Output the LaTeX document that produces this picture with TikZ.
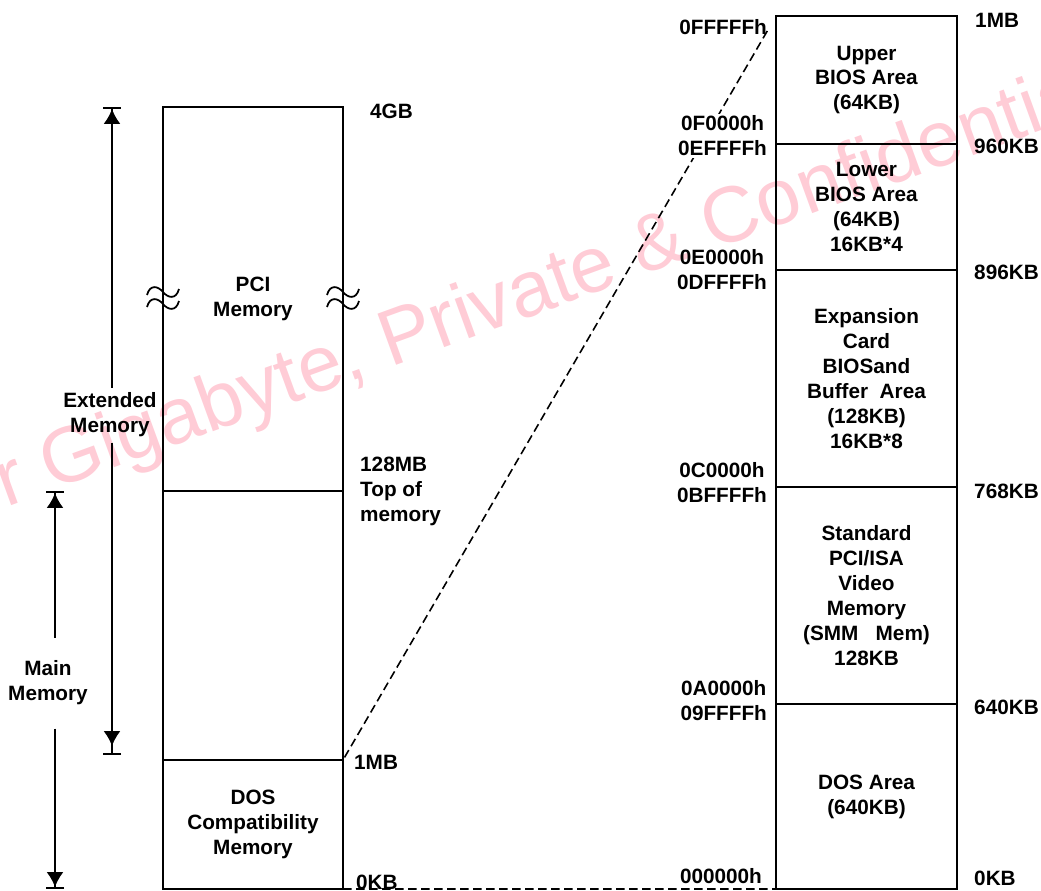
\documentclass[tikz,border=0pt]{standalone}
\usepackage{fontspec}
\setmainfont{Liberation Sans}
\usepackage{tikz}
\usetikzlibrary{arrows.meta,positioning}
\definecolor{MapInk}{HTML}{000000}
\definecolor{MapPink}{HTML}{FFCCD6}
\tikzset{
  maplabel/.style={font=\fontsize{11.8}{14.2}\selectfont\bfseries, text=MapInk, align=center},
  memcell/.style={draw=MapInk, line width=1.1pt, minimum width=36mm, inner sep=0pt, outer sep=0pt, maplabel},
  addrlabel/.style={maplabel, inner sep=1pt},
  spanarrow/.style={line width=1.1pt, draw=MapInk},
  maplink/.style={line width=0.9pt, draw=MapInk, dash pattern=on 1.7mm off 0.9mm},
  brkmark/.pic={
    \draw[line width=1pt] (-16,-4) .. controls (-13,-15) and (-5,-13) .. (0,-7) .. controls (5,-1) and (13,1) .. (16,-10);
    \draw[line width=1pt] (-16,8) .. controls (-13,-3) and (-5,-1) .. (0,5) .. controls (5,11) and (13,13) .. (16,2);
  }
}
\begin{document}
\begin{tikzpicture}[x=0.2mm, y=-0.2mm]
\useasboundingbox (0,0) rectangle (1041,890);
% watermark
\node[rotate=20, text=MapPink, font=\fontsize{45}{45}\selectfont] (wmark) at (505,304) {For Gigabyte, Private \& Confidential};
% system memory column
\node[memcell, minimum height=76.8mm] (pci) at (253,299) {PCI\\Memory};
\node[memcell, minimum height=53.8mm, below=0pt of pci] (sysmem) {};
\node[memcell, minimum height=25.8mm, below=0pt of sysmem] (dosc) {DOS\\Compatibility\\Memory};
\pic at (pci.west) {brkmark};
\pic at (pci.east) {brkmark};
\node[maplabel, anchor=west] (l4gb) at ([xshift=4.2mm, yshift=-0.8mm]pci.north east) {4GB};
\node[maplabel, anchor=west, align=left] (ltop) at ([xshift=2.2mm]sysmem.north east) {128MB\\Top of\\memory};
\node[maplabel, anchor=west] (l1mb) at ([xshift=1mm, yshift=-0.4mm]sysmem.south east) {1MB};
\node[maplabel, anchor=west] (l0kb) at ([xshift=1.4mm, yshift=1.4mm]dosc.south east) {0KB};
% span arrows
\coordinate (extop) at (112,107);
\coordinate (exbot) at (112,755);
\node[maplabel, inner ysep=1mm] (extm) at (110,415) {Extended\\Memory};
\draw[spanarrow, -{Latex[length=3mm, width=3.4mm]Bar[width=3.6mm]}] (extm.north -| extop) -- (extop);
\draw[spanarrow, -{Latex[length=3mm, width=3.4mm, sep=1.4mm]Bar[width=3.6mm]}] (extm.south -| exbot) -- (exbot);
\coordinate (mntop) at (55,491);
\coordinate (mnbot) at (55,889);
\node[maplabel, inner ysep=4.6mm] (mainm) at (48,683) {Main\\Memory};
\draw[spanarrow, -{Latex[length=3mm, width=3.4mm]Bar[width=3.6mm]}] (mainm.north -| mntop) -- (mntop);
\draw[spanarrow, -{Latex[length=3mm, width=3.4mm]Bar[width=3.6mm]}] (mainm.south -| mnbot) -- (mnbot);
% dos compatibility area
\node[memcell, minimum width=36.2mm, minimum height=25.6mm] (ubios) at (866.5,80) {Upper\\BIOS Area\\(64KB)};
\node[memcell, minimum width=36.2mm, minimum height=25.2mm, below=0pt of ubios] (lbios) {Lower\\BIOS Area\\(64KB)\\16KB*4};
\node[memcell, minimum width=36.2mm, minimum height=43.4mm, below=0pt of lbios] (expn) {Expansion\\Card\\BIOSand\\Buffer\ \ Area\\(128KB)\\16KB*8};
\node[memcell, minimum width=36.2mm, minimum height=43.4mm, below=0pt of expn] (vidm) {Standard\\PCI/ISA\\Video\\Memory\\(SMM\ \ \ Mem)\\128KB};
\node[memcell, minimum width=36.2mm, minimum height=37mm, below=0pt of vidm] (dosa) {DOS Area\\(640KB)};
% links between the columns
\draw[maplink, shorten <=0.6mm, shorten >=3.2mm] (sysmem.south east) -- (ubios.north west);
\draw[maplink] (dosc.south east) -- (dosa.south west);
% addresses
\node[addrlabel, anchor=east] (aff) at ([xshift=-1.4mm, yshift=-2.2mm]ubios.north west) {0FFFFFh};
\node[addrlabel, anchor=east, fill=white] (af0) at ([xshift=-1.4mm, yshift=1.6mm]lbios.north west) {0F0000h\\0EFFFFh};
\node[addrlabel, anchor=east] (ae0) at ([xshift=-1.4mm]expn.north west) {0E0000h\\0DFFFFh};
\node[addrlabel, anchor=east] (ac0) at ([xshift=-1.4mm, yshift=0.8mm]vidm.north west) {0C0000h\\0BFFFFh};
\node[addrlabel, anchor=east] (aa0) at ([xshift=-1.4mm, yshift=0.6mm]dosa.north west) {0A0000h\\09FFFFh};
\node[addrlabel, anchor=east] (a00) at ([xshift=-2.4mm, yshift=2.6mm]dosa.south west) {000000h};
\node[maplabel, anchor=west] (k1mb) at ([xshift=2.4mm, yshift=-0.8mm]ubios.north east) {1MB};
\node[maplabel, anchor=west] (k960) at ([xshift=2.2mm, yshift=-0.4mm]lbios.north east) {960KB};
\node[maplabel, anchor=west] (k896) at ([xshift=2.2mm, yshift=-0.4mm]expn.north east) {896KB};
\node[maplabel, anchor=west] (k768) at ([xshift=2.2mm, yshift=-0.8mm]vidm.north east) {768KB};
\node[maplabel, anchor=west] (k640) at ([xshift=2.2mm, yshift=-0.6mm]dosa.north east) {640KB};
\node[maplabel, anchor=west] (k0kb) at ([xshift=2.2mm, yshift=2.2mm]dosa.south east) {0KB};
\end{tikzpicture}
\end{document}
